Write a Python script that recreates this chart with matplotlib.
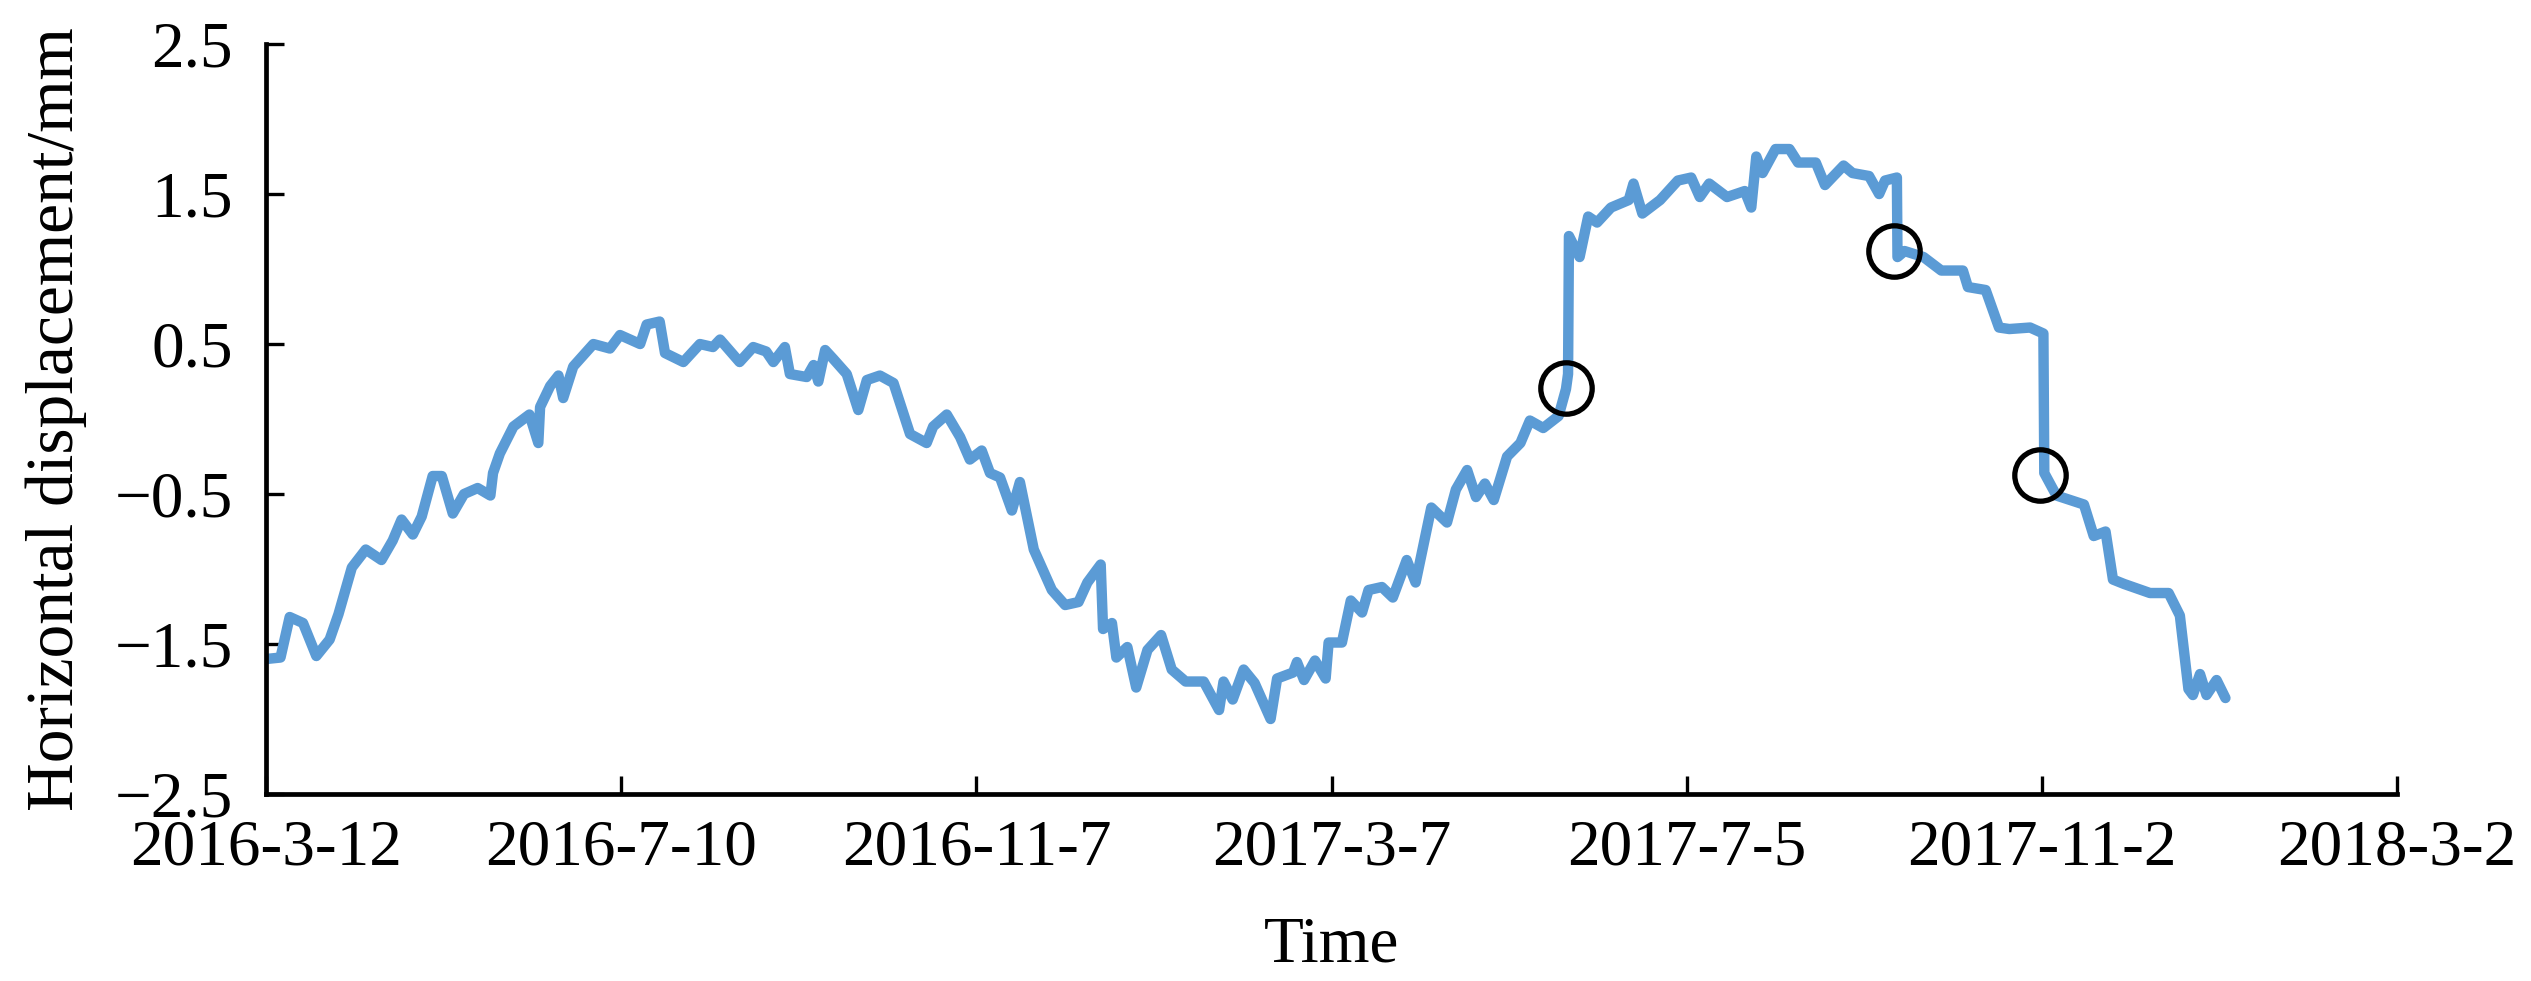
"""
水平位移时程曲线 (2016-3-12 起)，圆圈标出三处突变点
"""
from matplotlib import pyplot as plt

plt.rcParams['font.family'] = ['Liberation Serif', 'DejaVu Serif']

# 自 2016-3-12 起的天数
days = [0, 4.9, 8, 12.5, 17, 21.5, 24.5, 29, 33.7, 39, 42.8, 45.8, 49.6, 52.6,
        56.3, 59.4, 63.1, 66.9, 71.5, 75.8, 76.7, 79, 83.6, 89, 92, 92.6, 96,
        98.8, 100.4, 103.8, 110.6, 116.2, 119.6, 126.4, 128.6, 133, 134.8, 141,
        146.6, 151, 153.4, 160, 164.6, 169, 171.4, 175.3, 177, 182.7, 185,
        186.6, 188.9, 191.7, 196.2, 200.1, 203, 207.4, 212, 217.6, 223.2,
        225.4, 230, 234.5, 237.8, 241.8, 244.6, 248, 252, 254.7, 259.4, 265.5,
        270, 274.5, 277.5, 282, 282.8, 285.8, 287.3, 291, 294, 297.8, 302.4,
        306, 310.7, 316.8, 322, 323.5, 326.6, 330.3, 334, 339.4, 341.6, 347,
        348.3, 350.7, 354.4, 358, 359, 363.5, 366.5, 370.3, 372.5, 377, 380.7,
        385.4, 388.4, 393.7, 399, 402, 405.8, 408.8, 411.8, 414.8, 419.3,
        423.8, 427, 431.5, 436.7, 439.2, 439.9, 440.2, 443.8, 446.7, 449.7,
        454.4, 460.4, 462, 465, 471, 477, 481.5, 484.4, 487.6, 493.6, 499.6,
        501.8, 503.5, 505.6, 510, 514.7, 517.6, 523.6, 526.7, 533, 536, 541.6,
        545, 547, 551, 551.2, 553.6, 560, 566, 573.3, 575, 581, 585.5, 589,
        596, 600.5, 600.8, 604.9, 614.2, 617.5, 621.5, 624, 627.8, 636.5,
        642.8, 646.6, 649.5, 651, 653.4, 655.6, 659, 662]

# 水平位移 (mm)
disp = [-1.6, -1.59, -1.32, -1.36, -1.58, -1.47, -1.3, -0.99, -0.87, -0.94,
        -0.81, -0.67, -0.77, -0.65, -0.38, -0.38, -0.63, -0.5, -0.46, -0.51,
        -0.36, -0.23, -0.05, 0.03, -0.16, 0.08, 0.22, 0.29, 0.14, 0.35, 0.5,
        0.47, 0.56, 0.5, 0.63, 0.65, 0.44, 0.38, 0.5, 0.48, 0.53, 0.38, 0.48,
        0.45, 0.38, 0.48, 0.3, 0.28, 0.36, 0.25, 0.46, 0.4, 0.3, 0.06, 0.26,
        0.29, 0.24, -0.1, -0.16, -0.05, 0.03, -0.12, -0.27, -0.21, -0.36,
        -0.39, -0.61, -0.42, -0.87, -1.14, -1.24, -1.22, -1.09, -0.97, -1.4,
        -1.36, -1.59, -1.52, -1.79, -1.54, -1.44, -1.67, -1.75, -1.75, -1.94,
        -1.75, -1.87, -1.67, -1.76, -2.0, -1.73, -1.69, -1.62, -1.74, -1.61,
        -1.73, -1.49, -1.49, -1.21, -1.29, -1.14, -1.12, -1.19, -0.94, -1.09,
        -0.59, -0.69, -0.47, -0.34, -0.52, -0.43, -0.54, -0.25, -0.16, -0.01,
        -0.06, 0.02, 0.2, 0.3, 1.22, 1.08, 1.35, 1.31, 1.41, 1.46, 1.57, 1.37,
        1.46, 1.59, 1.61, 1.48, 1.57, 1.48, 1.52, 1.41, 1.75, 1.64, 1.8, 1.8,
        1.71, 1.71, 1.56, 1.69, 1.64, 1.62, 1.5, 1.59, 1.61, 1.08, 1.12, 1.08,
        0.99, 0.99, 0.88, 0.86, 0.61, 0.6, 0.61, 0.57, -0.36, -0.51, -0.57,
        -0.78, -0.75, -1.07, -1.1, -1.16, -1.16, -1.31, -1.8, -1.84, -1.7,
        -1.84, -1.74, -1.86]

# 突变点
mark_days = [439.2, 550, 599.3]
mark_disp = [0.21, 1.12, -0.37]

xtick_pos = [0, 120, 240, 360, 480, 600, 720]
xtick_labels = ['2016-3-12', '2016-7-10', '2016-11-7', '2017-3-7',
                '2017-7-5', '2017-11-2', '2018-3-2']
ytick_pos = [-2.5, -1.5, -0.5, 0.5, 1.5, 2.5]

fig = plt.figure(figsize=(25.31, 9.81), dpi=100)
ax = fig.add_axes([0.1051, 0.1906, 0.842, 0.7645])

ax.plot(days, disp, color='#5B9BD5', linewidth=7.5, solid_joinstyle='round',
        solid_capstyle='round')
ax.plot(mark_days, mark_disp, linestyle='none', marker='o', markersize=37,
        markerfacecolor='none', markeredgecolor='black', markeredgewidth=3.8)

ax.set_xlim(0, 720)
ax.set_ylim(-2.5, 2.5)
ax.set_xticks(xtick_pos)
ax.set_xticklabels(xtick_labels)
ax.set_yticks(ytick_pos)
ax.set_yticklabels(['\u22122.5', '\u22121.5', '\u22120.5', '0.5', '1.5', '2.5'])

for side in ['top', 'right']:
    ax.spines[side].set_visible(False)
for side in ['left', 'bottom']:
    ax.spines[side].set_linewidth(3.4)
ax.tick_params(axis='both', direction='in', length=13, width=2.4,
               labelsize=47)
ax.tick_params(axis='y', pad=24)
ax.tick_params(axis='x', pad=18)

ax.set_xlabel('Time', fontsize=47, labelpad=27)
ax.set_ylabel('Horizontal displacement/mm', fontsize=48.5, labelpad=20)

plt.savefig('out.png', dpi=100)
